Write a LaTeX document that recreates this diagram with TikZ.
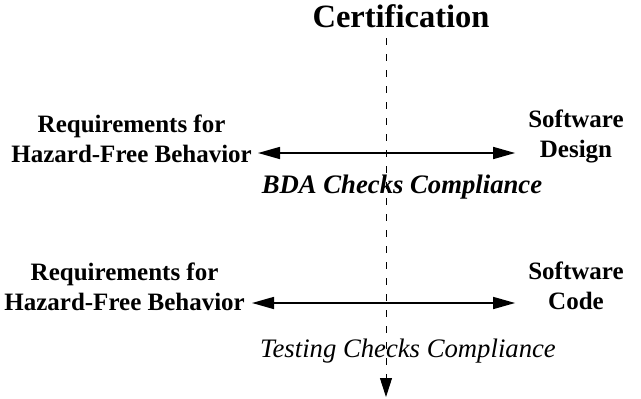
\documentclass[tikz,border=0pt]{standalone}
\usepackage{fontspec}
\setmainfont{Liberation Serif}
\usetikzlibrary{arrows.meta}
\tikzset{
  label text/.style={inner sep=0pt, align=center, font=\fontsize{25}{30}\selectfont\bfseries},
  compliance/.style={inner sep=0pt, anchor=base, font=\fontsize{26.7}{32}\selectfont\itshape},
  link/.style={line width=1.5pt, {Triangle[length=22pt,width=12pt]}-{Triangle[length=22pt,width=12pt]}},
  axis/.style={line width=0.9pt, dash pattern=on 7pt off 9pt, -{Triangle[length=19pt,width=12pt]}}
}
\begin{document}
\begin{tikzpicture}[x=1pt,y=-1pt]
  \useasboundingbox (0,0) rectangle (641,399);
  % title and the vertical certification axis
  \node[inner sep=0pt, anchor=base, font=\fontsize{32.5}{38}\selectfont\bfseries] (cert) at (401,27) {Certification};
  \coordinate (axtop) at (386,38);
  \coordinate (axbot) at (386,397);
  \draw[axis] (axtop) -- (axbot);

  % first row: requirements vs. design
  \node[label text, anchor=base east] (req1) at (252,162) {Requirements for\\Hazard-Free Behavior};
  \node[label text, anchor=base] (des) at (576,157) {Software\\Design};
  \draw[link] ([shift={(6,-9)}]req1.base east) -- ([shift={(-13,-4)}]des.base west);
  \node[compliance, font=\fontsize{26.7}{32}\selectfont\bfseries\itshape] (bda) at (402,193) {BDA Checks Compliance};

  % second row: requirements vs. code
  \node[label text, anchor=base east] (req2) at (245,310) {Requirements for\\Hazard-Free Behavior};
  \node[label text, anchor=base] (code) at (576,309) {Software\\Code};
  \draw[link] ([shift={(7,-7)}]req2.base east) -- ([shift={(-13,-6)}]code.base west);
  \node[compliance] (test) at (408,357) {Testing Checks Compliance};
\end{tikzpicture}
\end{document}
